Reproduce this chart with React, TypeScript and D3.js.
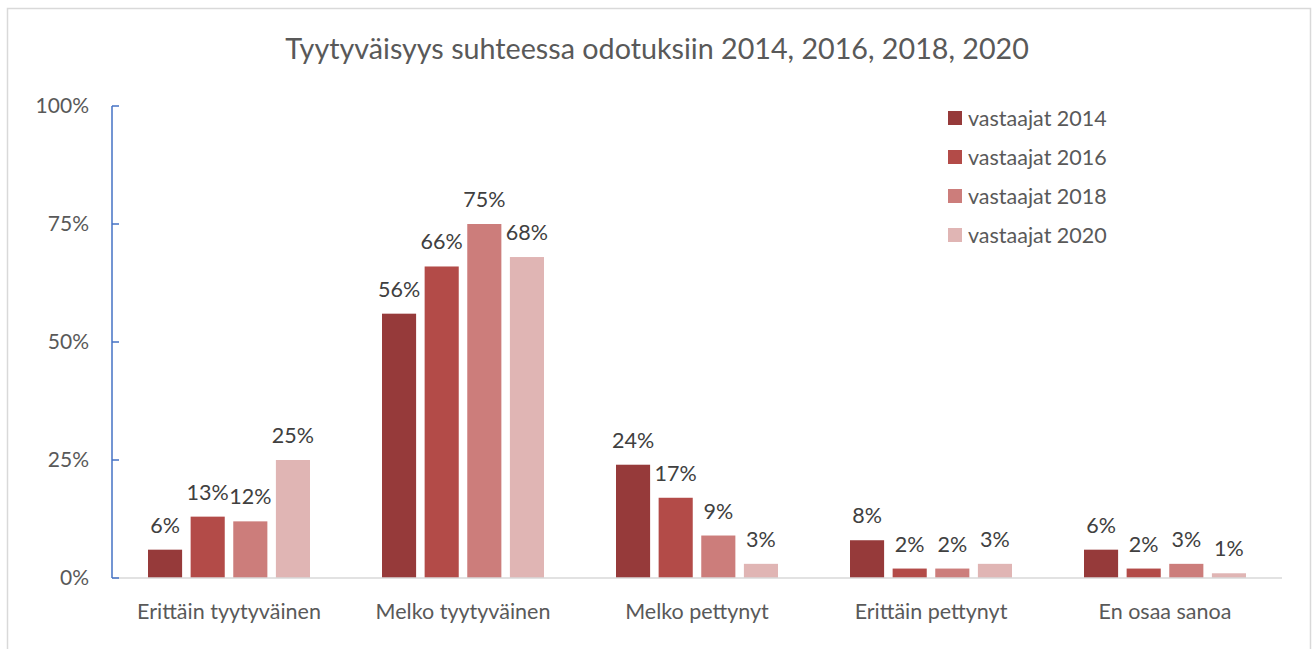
import React from "react";
import * as d3 from "d3";

const title = "Tyytyväisyys suhteessa odotuksiin 2014, 2016, 2018, 2020";
const categories = ["Erittäin tyytyväinen", "Melko tyytyväinen", "Melko pettynyt", "Erittäin pettynyt", "En osaa sanoa"];
const seriesNames = ["vastaajat 2014", "vastaajat 2016", "vastaajat 2018", "vastaajat 2020"];
const v2014 = [6, 56, 24, 8, 6];
const v2016 = [13, 66, 17, 2, 2];
const v2018 = [12, 75, 9, 2, 3];
const v2020 = [25, 68, 3, 3, 1];
const yTicks = [0, 25, 50, 75, 100];
const colors = ["#963a3a", "#b34b48", "#cc7d7b", "#e0b5b4"];

const seriesValues = [v2014, v2016, v2018, v2020];
const FONT = "Lato, 'Open Sans', sans-serif";

export default function App() {
  const W = 1314, H = 649;
  const left = 112, right = 1282, top = 106, bottom = 578;
  const x0 = d3.scaleBand<string>().domain(categories).range([left, right]).paddingInner(0).paddingOuter(0);
  const x1 = d3.scaleBand<string>().domain(seriesNames).range([36, x0.bandwidth() - 36]).paddingInner(0.2).paddingOuter(0);
  const y = d3.scaleLinear().domain([0, 100]).range([bottom, top]);

  return (
    <svg width={W} height={H} style={{ position: "absolute", left: 0, top: 0, fontFamily: FONT }}>
      <rect x={0} y={0} width={W} height={H} fill="#fff" />
      <rect x={7.5} y={8.5} width={1303} height={660} fill="none" stroke="#d9d9d9" strokeWidth={1.5} />
      <text x={657} y={59} textAnchor="middle" fontSize={28.7} fill="#595959">{title}</text>

      {categories.map((c, ci) => (
        <g key={c}>
          {seriesNames.map((s, si) => {
            const v = seriesValues[si][ci];
            const bx = (x0(c) as number) + (x1(s) as number);
            const bw = x1.bandwidth();
            return (
              <g key={s}>
                <rect x={bx} y={y(v)} width={bw} height={bottom - y(v)} fill={colors[si]} />
                <text x={bx + bw / 2} y={y(v) - 17} textAnchor="middle" fontSize={21.5} fill="#404040">{v}%</text>
              </g>
            );
          })}
          <text x={(x0(c) as number) + x0.bandwidth() / 2} y={619} textAnchor="middle" fontSize={21.5} fill="#595959">{c}</text>
        </g>
      ))}

      <line x1={left} x2={right} y1={bottom} y2={bottom} stroke="#d9d9d9" strokeWidth={1.5} />
      <line x1={left} x2={left} y1={top} y2={bottom} stroke="#4472c4" strokeWidth={1.5} />
      {yTicks.map(t => (
        <g key={t}>
          <line x1={left} x2={left + 7} y1={y(t)} y2={y(t)} stroke="#4472c4" strokeWidth={1.5} />
          <text x={89} y={y(t)} dy="0.35em" textAnchor="end" fontSize={21} fill="#595959">{t}%</text>
        </g>
      ))}

      {seriesNames.map((s, i) => (
        <g key={s} transform={`translate(948, ${118 + i * 39})`}>
          <rect x={0} y={-7} width={14} height={14} fill={colors[i]} />
          <text x={20} y={0} dy="0.35em" fontSize={21.5} fill="#595959">{s}</text>
        </g>
      ))}
    </svg>
  );
}
